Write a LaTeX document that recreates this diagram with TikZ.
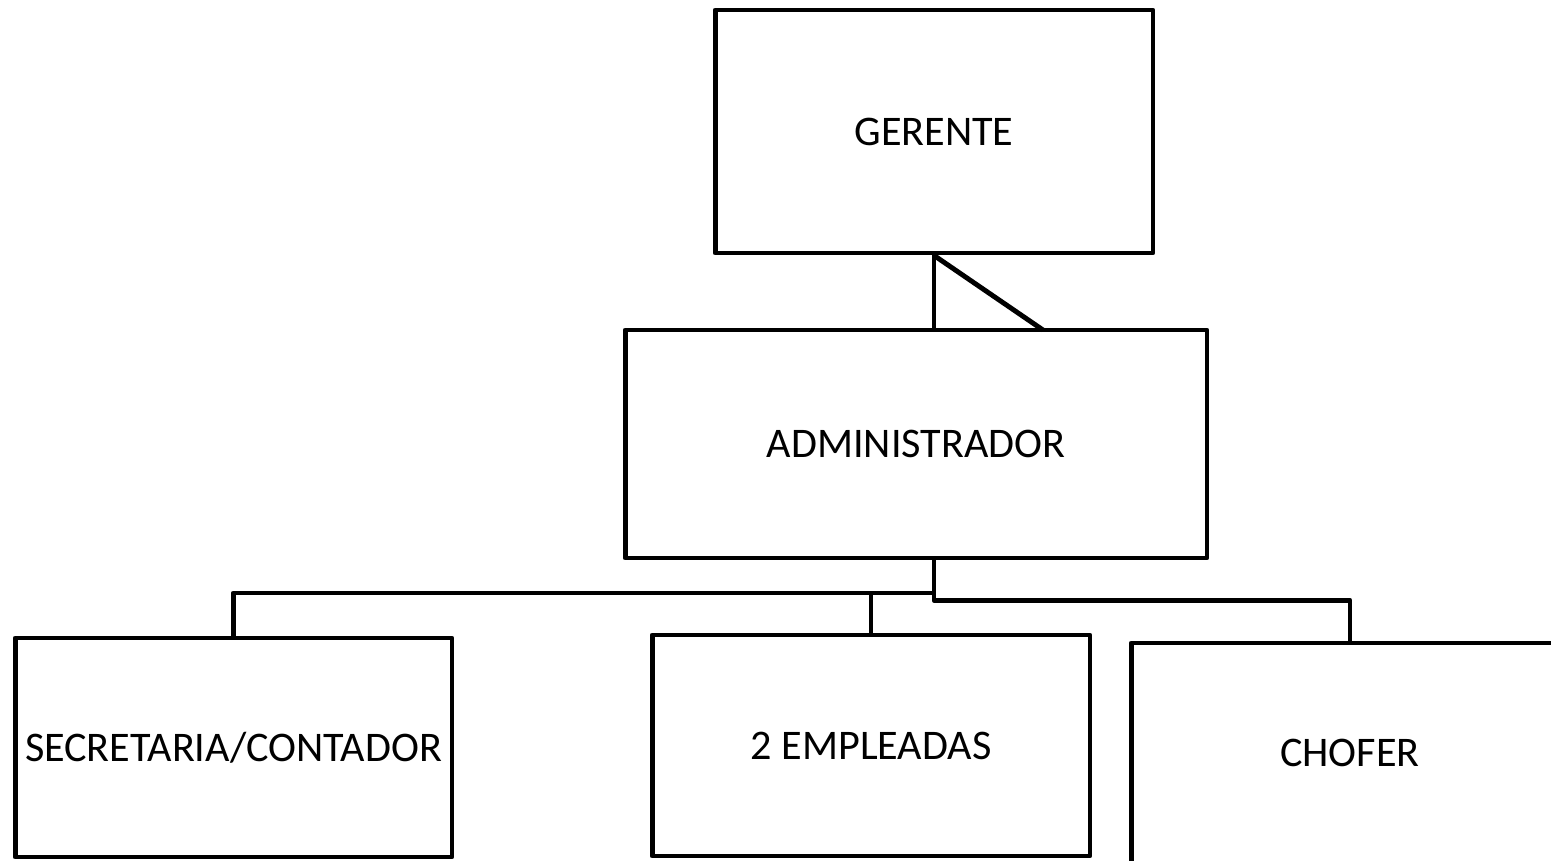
\documentclass[tikz,border=0pt]{standalone}
\usepackage{fontspec}
\setmainfont{Carlito}
\usepackage{tikz}

\tikzset{caja/.style={draw, line width=2.8pt, line join=round, inner sep=0pt, font=\fontsize{24}{28}\selectfont}}

\begin{document}
\begin{tikzpicture}[x=0.02cm, y=-0.02cm, line width=2.8pt, line join=round]
\useasboundingbox (0,0) rectangle (1551,860);
\clip (0,0) rectangle (1551,860);
\node[caja, minimum width=8.76cm, minimum height=4.86cm] (ger) at (934,131.5) {GERENTE};
\node[caja, minimum width=11.64cm, minimum height=4.56cm] (adm) at (916,444) {ADMINISTRADOR};
\node[caja, minimum width=8.74cm, minimum height=4.38cm] (sec) at (233.5,747.5) {SECRETARIA/CONTADOR};
\node[caja, minimum width=8.76cm, minimum height=4.42cm] (emp) at (871,745.5) {2 EMPLEADAS};
\node[caja, minimum width=8.76cm, minimum height=4.4cm] (cho) at (1350,753) {CHOFER};
\coordinate (diag) at (1043,330);
\draw (ger.south) -- (ger.south |- adm.north);
\draw (ger.south) -- (diag);
\draw (adm.south -| ger.south) coordinate (hub) -- ++(0,40) -| (cho.north);
\draw (hub |- 0,593) -| (sec.north);
\draw (emp.north |- 0,593) -- (emp.north);
\end{tikzpicture}
\end{document}
